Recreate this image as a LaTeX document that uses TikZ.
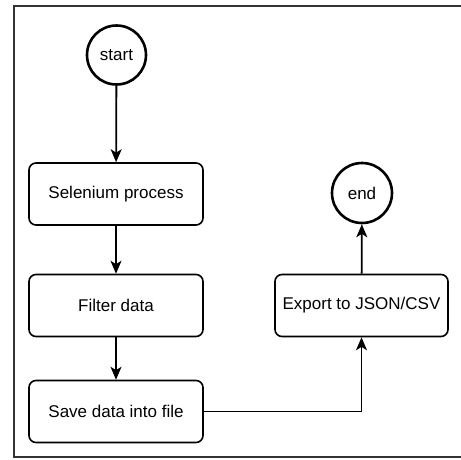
\documentclass[tikz,border=0pt]{standalone}
\usepackage{fontspec}
\setmainfont{Liberation Sans}
\usetikzlibrary{arrows.meta}
\begin{document}
\begin{tikzpicture}[x=1pt,y=-1pt,
  stepbox/.style={draw, line width=1.6pt, rounded corners=7pt, minimum width=174pt, minimum height=62pt, inner sep=0pt, font=\fontsize{17}{20}\selectfont},
  term/.style={draw, circle, line width=2.6pt, minimum size=59pt, inner sep=0pt, font=\fontsize{17}{20}\selectfont},
  conn/.style={line width=1.8pt, -{Stealth[length=13pt, width=11pt, inset=3.5pt]}}]
\useasboundingbox (0,0) rectangle (461,459);
\draw[line width=1.4pt, draw=black!80] (461,6) -- (14,6) -- (14,457) -- (461,457);
\node[term] (start) at (116.5,55) {start};
\node[stepbox] (sel) at (116,194) {Selenium process};
\node[stepbox] (filt) at (116,305.5) {Filter data};
\node[stepbox] (save) at (116,411.5) {Save data into file};
\node[stepbox, minimum width=173pt] (exp) at (361.5,305.5) {Export to JSON/CSV};
\node[term, minimum size=60pt] (end) at (362,193) {end};
\draw[conn] (start) -- (sel);
\draw[conn] (sel) -- (filt);
\draw[conn] (filt) -- (save);
\draw[conn] (save.east) -| (exp.south);
\draw[conn] (exp) -- (end);
\end{tikzpicture}
\end{document}
